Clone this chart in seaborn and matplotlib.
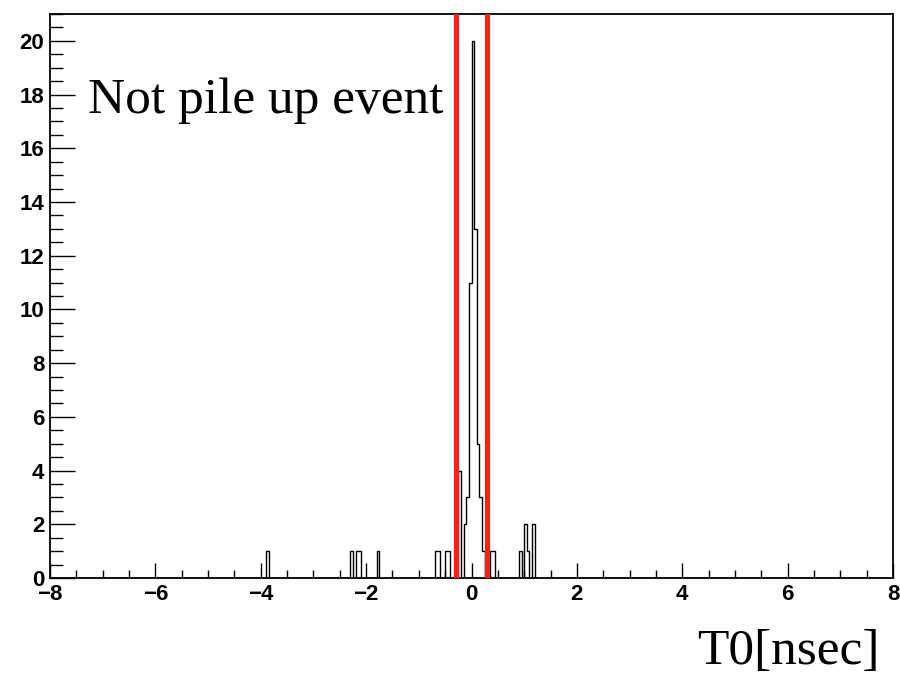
import numpy as np
import pandas as pd
import matplotlib
matplotlib.use("Agg")
import matplotlib.pyplot as plt
import seaborn as sns
from matplotlib.ticker import MultipleLocator

# ---- data ----
bin_low = [-3.90, -2.30, -2.20, -2.15, -1.80, -0.70, -0.65, -0.50, -0.45,
           -0.25, -0.15, -0.10, -0.05, 0.00, 0.05, 0.10, 0.15, 0.20,
           0.35, 0.40, 0.90, 1.00, 1.05, 1.15]
counts = [1, 1, 1, 1, 1, 1, 1, 1, 1,
          4, 2, 3, 11, 20, 13, 5, 3, 1,
          1, 1, 1, 2, 1, 2]
bin_width = 0.05
x_range = [-8, 8]
y_max = 21
cut_lines = [-0.3, 0.3]
label_text = "Not pile up event"
x_title = "T0[nsec]"

df = pd.DataFrame({"t0": np.array(bin_low) + bin_width / 2, "n": counts})

sns.set_theme(style="ticks")
plt.rcParams["font.family"] = ["Liberation Sans", "DejaVu Sans"]
plt.rcParams["text.color"] = "black"
plt.rcParams["xtick.color"] = "black"
plt.rcParams["ytick.color"] = "black"
plt.rcParams["xtick.labelcolor"] = "black"
plt.rcParams["ytick.labelcolor"] = "black"

fig = plt.figure(figsize=(9, 6.78), dpi=100)
ax = fig.add_axes([50 / 900, 100 / 678, 843 / 900, 564 / 678])

sns.histplot(data=df, x="t0", weights="n", binwidth=bin_width,
             binrange=(x_range[0], x_range[1]), element="step",
             fill=False, color="black", linewidth=1.0, ax=ax)

for xc in cut_lines:
    ax.axvline(xc, color="#e8261a", linewidth=3.8, zorder=5)

ax.set_xlim(*x_range)
ax.set_ylim(0, y_max)
ax.set_xlabel("")
ax.set_ylabel("")

ax.xaxis.set_major_locator(MultipleLocator(2))
ax.xaxis.set_minor_locator(MultipleLocator(0.5))
ax.yaxis.set_major_locator(MultipleLocator(2))
ax.yaxis.set_minor_locator(MultipleLocator(0.5))

ax.tick_params(axis="x", which="major", direction="in", length=11, width=1,
               pad=4, labelsize=16, top=False, colors="black")
ax.tick_params(axis="x", which="minor", direction="in", length=6, width=1,
               top=False, colors="black")
ax.tick_params(axis="y", which="major", direction="in", length=18, width=1,
               pad=4, labelsize=16, right=False, colors="black")
ax.tick_params(axis="y", which="minor", direction="in", length=9, width=1,
               right=False, colors="black")
for lab in ax.get_xticklabels() + ax.get_yticklabels():
    lab.set_fontweight("bold")
    lab.set_color("black")

for s in ax.spines.values():
    s.set_visible(True)
    s.set_linewidth(1.3)
    s.set_color("black")

fig.text(88 / 900, (678 - 113) / 678, label_text, family=["Liberation Serif"],
         fontsize=37, va="baseline", ha="left", color="black")
fig.text(880 / 900, 14 / 678, x_title, family=["Liberation Serif"],
         fontsize=37, va="baseline", ha="right", color="black")

fig.savefig("out.png", dpi=100, facecolor="white")
